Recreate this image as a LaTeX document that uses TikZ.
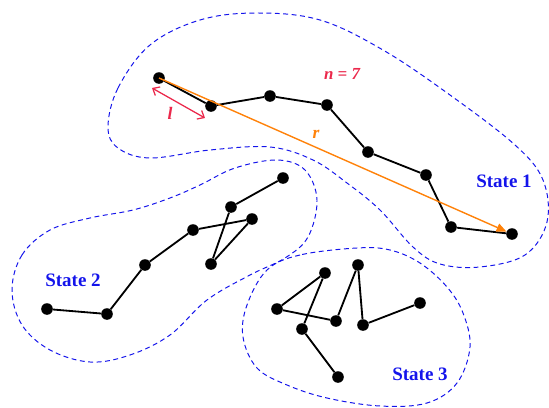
\documentclass[tikz,border=0pt]{standalone}
\usepackage{fontspec}
\setmainfont{Liberation Serif}
\usepackage{tikz}
\usetikzlibrary{arrows.meta}

\definecolor{stateblue}{RGB}{20,20,235}
\definecolor{linkred}{RGB}{235,40,75}
\definecolor{endorange}{RGB}{255,130,10}

\begin{document}
\begin{tikzpicture}[x=0.025cm,y=-0.025cm,
		bead/.style={circle,fill=black,inner sep=0pt,minimum size=0.29cm},
		chain/.style={black,line width=1.3pt},
		outline/.style={stateblue,line width=0.7pt,dash pattern=on 3.5pt off 2.5pt},
		statelabel/.style={text=stateblue,font=\fontsize{13.5}{16}\selectfont\bfseries}]
		\useasboundingbox (0,0) rectangle (549,408);
		
		% outlines of the three states
		\draw[outline] plot[smooth cycle,tension=0.6] coordinates {
			(108,127) (118,88) (150,45) (200,20) (257,13) (320,20) (383,50)
			(450,95) (515,145) (543,180) (547,222) (525,255) (480,267)
			(440,264) (413,247) (380,210) (347,183) (313,160) (270,147)
			(210,150) (150,158) (118,148)};
		\draw[outline] plot[smooth cycle,tension=0.6] coordinates {
			(12,290) (22,255) (50,230) (90,218) (133,210) (170,198) (200,185)
			(235,168) (277,160) (305,170) (317,200) (308,237) (285,258)
			(250,275) (207,300) (170,335) (130,355) (90,362) (50,350) (22,325)};
		\draw[outline] plot[smooth cycle,tension=0.6] coordinates {
			(357,248) (300,255) (267,270) (247,305) (243,337) (257,368)
			(287,385) (327,398) (380,406) (427,403) (457,383) (470,347)
			(463,313) (447,287) (420,263) (390,250)};
		
		% state 1 chain
		\node[bead] (a1) at (159,78) {};
		\node[bead] (a2) at (211,106) {};
		\node[bead] (a3) at (270,96) {};
		\node[bead] (a4) at (327,105) {};
		\node[bead] (a5) at (368,152) {};
		\node[bead] (a6) at (426,175) {};
		\node[bead] (a7) at (451,227) {};
		\node[bead] (a8) at (512,234) {};
		\draw[chain] (a1) -- (a2) -- (a3) -- (a4) -- (a5) -- (a6) -- (a7) -- (a8);
		
		% state 2 chain
		\node[bead] (b1) at (47,309) {};
		\node[bead] (b2) at (107,314) {};
		\node[bead] (b3) at (145,265) {};
		\node[bead] (b4) at (193,230) {};
		\node[bead] (b5) at (252,219) {};
		\node[bead] (b6) at (211,264) {};
		\node[bead] (b7) at (231,207) {};
		\node[bead] (b8) at (283,178) {};
		\draw[chain] (b1) -- (b2) -- (b3) -- (b4) -- (b5) -- (b6) -- (b7) -- (b8);
		
		% state 3 chain
		\node[bead] (c1) at (338,377) {};
		\node[bead] (c2) at (302,329) {};
		\node[bead] (c3) at (325,273) {};
		\node[bead] (c4) at (277,309) {};
		\node[bead] (c5) at (336,321) {};
		\node[bead] (c6) at (358,265) {};
		\node[bead] (c7) at (363,325) {};
		\node[bead] (c8) at (420,303) {};
		\draw[chain] (c1) -- (c2) -- (c3) -- (c4) -- (c5) -- (c6) -- (c7) -- (c8);
		
		% end-to-end vector
		\draw[endorange,line width=1pt,-{Triangle[length=7pt,width=6pt]}] (a1.center) -- (a8);
		\node[text=endorange,font=\fontsize{12.5}{14}\selectfont\bfseries\itshape] (rlab) at (316,134) {r};
		
		% bond length
		\coordinate (l1) at (152,88);
		\coordinate (l2) at (205,118);
		\draw[linkred,line width=0.9pt,{Straight Barb[length=4pt,width=7pt]}-{Straight Barb[length=4pt,width=7pt]}] (l1) -- (l2);
		\node[text=linkred,font=\fontsize{12.5}{14}\selectfont\bfseries\itshape] (llab) at (170,113) {l};
		\node[text=linkred,font=\fontsize{12}{14}\selectfont\bfseries\itshape] (nlab) at (342,74) {n = 7};
		
		% labels
		\node[statelabel] (s1) at (504,181) {State 1};
		\node[statelabel] (s2) at (73,280) {State 2};
		\node[statelabel] (s3) at (420,374) {State 3};
	\end{tikzpicture}
\end{document}
